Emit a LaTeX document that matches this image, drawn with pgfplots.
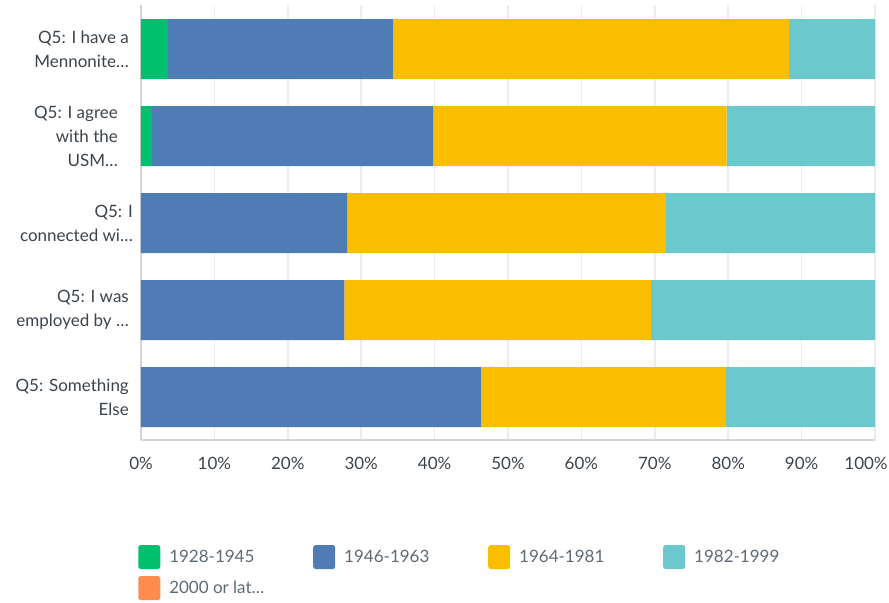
\documentclass[border=0pt]{standalone}
\usepackage{pgfplots}
\pgfplotsset{compat=1.18}
\usepackage{fontspec}
\setmainfont{Lato}
\definecolor{cgreen}{HTML}{00BF6F}
\definecolor{cblue}{HTML}{507CB6}
\definecolor{cyellow}{HTML}{F9BE00}
\definecolor{cteal}{HTML}{6BC8CD}
\definecolor{corange}{HTML}{FF8B4F}
\definecolor{ctext}{HTML}{3B434B}
\definecolor{clegend}{HTML}{5E6A72}
\definecolor{cgrid}{HTML}{EBECEC}
\definecolor{caxis}{HTML}{D3D5D6}
\begin{document}
\begin{tikzpicture}
\useasboundingbox (-141bp,-163bp) rectangle (748bp,440bp);
\begin{axis}[
  at={(0,0)}, anchor=south west,
  scale only axis, width=734bp, height=435bp,
  xbar stacked, bar width=0.69,
  xmin=0, xmax=100,
  ymin=-0.506, ymax=4.494, y dir=reverse,
  ytick={0,1,2,3,4},
  yticklabels={
    {Q5: I have a\\Mennonite…},
    {Q5: I agree\rule{11bp}{0pt}\\with the\rule{11bp}{0pt}\\USM…\rule{11bp}{0pt}},
    {Q5: I\hspace*{-4bp}\\connected wi…\hspace*{-4bp}},
    {Q5: I was\\employed by …},
    {Q5: Something\\Else}},
  xtick={0,10,...,100},
  xticklabels={0\%,10\%,20\%,30\%,40\%,50\%,60\%,70\%,80\%,90\%,\hspace*{-18bp}100\%},
  major tick length=0pt,
  yticklabel style={align=right, font={\fontsize{17bp}{24bp}\selectfont}, text=ctext, inner xsep=0pt, xshift=-12bp},
  xticklabel style={font={\fontsize{17bp}{20bp}\selectfont}, text=ctext, inner sep=0pt, yshift=-17bp},
  xmajorgrids, major grid style={color=cgrid, line width=1.5bp},
  axis lines*=left,
  axis line style={draw=caxis, line width=1.5bp},
  legend columns=4,
  legend cell align=left,
  legend style={draw=none, fill=none, inner sep=0pt,
    at={(axis description cs:-0.004,-0.241)}, anchor=north west,
    font={\fontsize{17bp}{20bp}\selectfont}, text=clegend,
    row sep=7bp,
    /tikz/every odd column/.append style={column sep=7bp}},
  legend image code/.code={\fill[#1, rounded corners=2.5bp] (0bp,-12bp) rectangle (22bp,12bp);},
]
\addplot+[draw=none, fill=cgreen] coordinates {(3.7,0) (1.5,1) (0,2) (0,3) (0,4)};
\addlegendentry{\makebox[142bp][l]{1928-1945}}
\addplot+[draw=none, fill=cblue] coordinates {(30.6,0) (38.3,1) (28.1,2) (27.7,3) (46.3,4)};
\addlegendentry{\makebox[142bp][l]{1946-1963}}
\addplot+[draw=none, fill=cyellow] coordinates {(54.0,0) (40.0,1) (43.4,2) (41.8,3) (33.4,4)};
\addlegendentry{\makebox[142bp][l]{1964-1981}}
\addplot+[draw=none, fill=cteal] coordinates {(11.7,0) (20.2,1) (28.5,2) (30.5,3) (20.3,4)};
\addlegendentry{\makebox[142bp][l]{1982-1999}}
\addplot+[draw=none, fill=corange] coordinates {(0,0) (0,1) (0,2) (0,3) (0,4)};
\addlegendentry{\makebox[142bp][l]{2000 or lat…}}
\end{axis}
\end{tikzpicture}
\end{document}
